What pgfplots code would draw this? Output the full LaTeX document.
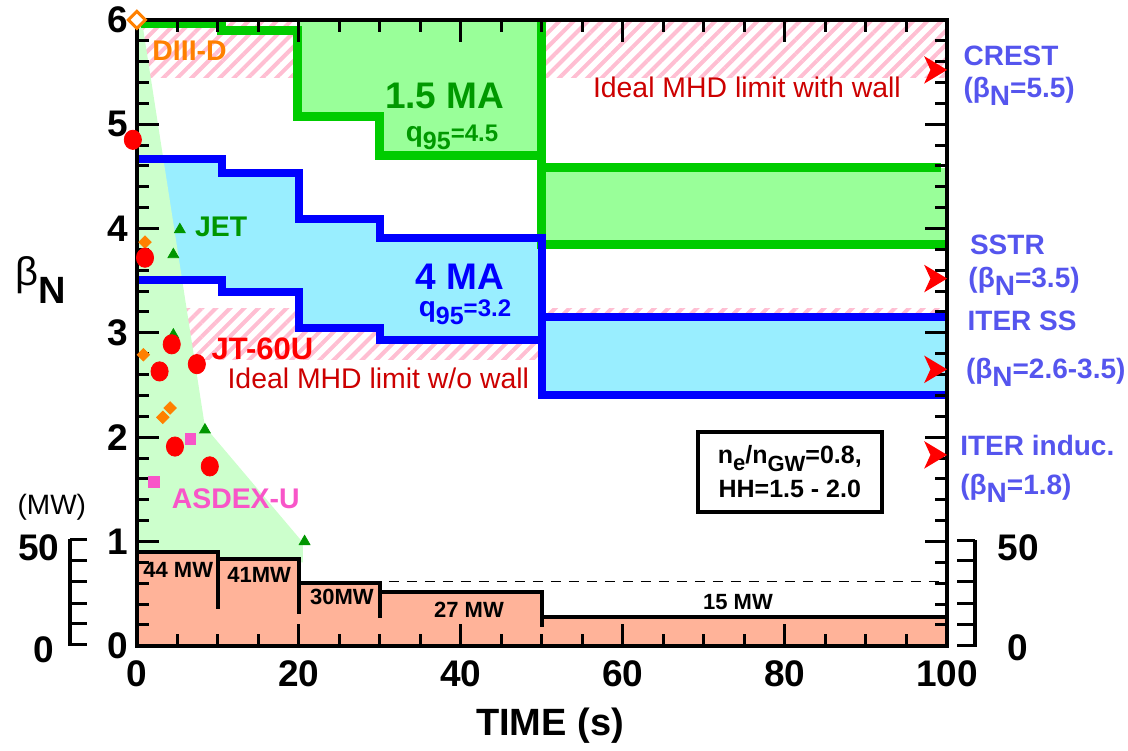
\documentclass[border=0pt]{standalone}
\usepackage{pgfplots}
\pgfplotsset{compat=1.18}
\usepackage{fontspec}
\setmainfont{Liberation Sans}
\usetikzlibrary{patterns.meta}

\definecolor{wedge}{RGB}{204,255,204}
\definecolor{gfill}{RGB}{153,255,153}
\definecolor{gline}{RGB}{0,204,0}
\definecolor{gtext}{RGB}{0,153,0}
\definecolor{cfill}{RGB}{153,238,255}
\definecolor{bline}{RGB}{0,0,255}
\definecolor{pfill}{RGB}{255,179,153}
\definecolor{hatch}{RGB}{255,190,210}
\definecolor{dred}{RGB}{204,0,0}
\definecolor{orng}{RGB}{255,128,0}
\definecolor{pnk}{RGB}{248,85,200}
\definecolor{lblue}{RGB}{85,85,238}
\definecolor{tgreen}{RGB}{0,150,0}

\newcommand{\fs}[1]{\fontsize{#1}{#1}\selectfont}

\pgfdeclareplotmark{rarrow}{%
 \pgfpathmoveto{\pgfpoint{\pgfplotmarksize}{0pt}}%
 \pgfpathlineto{\pgfpoint{-\pgfplotmarksize}{1.2\pgfplotmarksize}}%
 \pgfpathlineto{\pgfpoint{-0.45\pgfplotmarksize}{0pt}}%
 \pgfpathlineto{\pgfpoint{-\pgfplotmarksize}{-1.2\pgfplotmarksize}}%
 \pgfpathclose\pgfusepathqfill}

\begin{document}
\begin{tikzpicture}
\begin{axis}[
  width=405pt, height=313pt, scale only axis,
  xmin=0, xmax=100, ymin=0, ymax=6,
  clip=false, axis on top,
  axis line style={line width=2pt},
  xtick={0,20,...,100}, minor x tick num=3,
  ytick={0,1,...,6}, minor y tick num=4,
  tick align=inside,
  major tick length=11pt, minor tick length=6pt,
  every tick/.style={black, line width=1.5pt},
  /pgf/number format/assume math mode=true,
  tick label style={font=\bfseries\fs{18.5}},
  xticklabel style={yshift=-4pt},
  yticklabel style={xshift=-1pt},
  xlabel={TIME (s)},
  xlabel style={at={(rel axis cs:0.51,-0.128)}, anchor=center, font=\bfseries\fs{19}},
]
% bounding box
\path (axis cs:-16.9,-0.968) rectangle (axis cs:122.35,6.19);

% hatched ideal MHD bands
\addplot[draw=none, pattern={Lines[angle=45,distance=5pt,line width=2pt]}, pattern color=hatch]
  coordinates {(0,5.45)(100,5.45)(100,6)(0,6)} -- cycle;
\addplot[draw=none, pattern={Lines[angle=45,distance=5pt,line width=2pt]}, pattern color=hatch]
  coordinates {(0,2.74)(100,2.74)(100,3.23)(0,3.23)} -- cycle;

% 1.5 MA region fill
\addplot[draw=none, fill=gfill]
  coordinates {(19.8,6)(50,6)(50,4.70)(30,4.70)(30,5.07)(19.8,5.07)} -- cycle;
\addplot[draw=none, fill=gfill]
  coordinates {(50,3.85)(100,3.85)(100,4.58)(50,4.58)} -- cycle;

% 4 MA region fill
\addplot[draw=none, fill=cfill]
  coordinates {(0,4.67)(10.5,4.67)(10.5,4.53)(20,4.53)(20,4.09)(30,4.09)(30,3.91)(50,3.91)(50,3.15)(100,3.15)(100,2.40)(50,2.40)(50,2.93)(30,2.93)(30,3.05)(20,3.05)(20,3.39)(10.5,3.39)(10.5,3.51)(0,3.51)} -- cycle;

% operational region wedge
\addplot[draw=none, fill=wedge]
  coordinates {(0,6)(0.7,5.95)(8.4,2.1)(20.5,0.99)(20.5,0.8)(0,0.8)} -- cycle;

% heating power
\addplot[draw=none, fill=pfill]
  coordinates {(0,0)(0,0.90)(10,0.90)(10,0.835)(20,0.835)(20,0.605)(30,0.605)(30,0.52)(50,0.52)(50,0.28)(100,0.28)(100,0)} -- cycle;
\addplot[black, line width=2pt]
  coordinates {(0,0.90)(10,0.90)(10,0.835)(20,0.835)(20,0.605)(30,0.605)(30,0.52)(50,0.52)(50,0.28)(100,0.28)};
\addplot[black, line width=2pt] coordinates {(10,0.835)(10,0.35)};
\addplot[black, line width=2pt] coordinates {(20,0.605)(20,0.31)};
\addplot[black, line width=2pt] coordinates {(30,0.52)(30,0.27)};
\addplot[black, line width=2pt] coordinates {(50,0.28)(50,0.18)};
\addplot[black, line width=0.7pt, dash pattern=on 5pt off 4pt] coordinates {(20,0.615)(99,0.615)};

% green lines
\addplot[gline, line width=4.5pt]
  coordinates {(0.5,5.96)(10.5,5.96)(10.5,5.9)(19.8,5.9)(19.8,5.07)(30,5.07)(30,4.70)(50,4.70)};
\addplot[gline, line width=4.5pt] coordinates {(50,6)(50,3.85)(100,3.85)};
\addplot[gline, line width=4.5pt] coordinates {(50,4.58)(99.3,4.58)};

% blue lines
\addplot[bline, line width=4pt]
  coordinates {(0,4.67)(10.5,4.67)(10.5,4.53)(20,4.53)(20,4.09)(30,4.09)(30,3.91)(50,3.91)(50,2.40)(100,2.40)};
\addplot[bline, line width=4pt]
  coordinates {(0,3.51)(10.5,3.51)(10.5,3.39)(20,3.39)(20,3.05)(30,3.05)(30,2.93)(50,2.93)};
\addplot[bline, line width=4pt] coordinates {(50,3.15)(100,3.15)};

% data markers
\addplot[only marks, mark=square*, color=orng, mark size=3pt, mark options={rotate=45, fill=white, line width=1.5pt}]
  coordinates {(0,6)};
\addplot[only marks, mark=square*, color=orng, mark size=2.2pt, mark options={rotate=45}]
  coordinates {(1.0,3.87)(0.8,2.79)(4.1,2.28)(3.2,2.19)};
\addplot[only marks, mark=triangle*, color=tgreen, mark size=3.1pt]
  coordinates {(5.3,3.99)(4.5,3.75)(4.5,2.98)(8.4,2.07)(20.7,1.0)};
\addplot[only marks, mark=square*, color=pnk, mark size=2.7pt]
  coordinates {(6.6,1.98)(2.1,1.57)};
\addplot[only marks, mark=*, color=red, mark size=4.3pt, mark options={yscale=1.12}]
  coordinates {(-0.5,4.85)(1.0,3.72)(4.3,2.89)(7.4,2.70)(2.8,2.63)(4.7,1.91)(9.0,1.72)};
\addplot[only marks, mark=rarrow, color=red, mark size=5.75pt]
  coordinates {(98.6,5.52)(98.6,3.52)(98.6,2.65)(98.6,1.83)};

% texts
\node[text=gtext, font=\bfseries\fs{18.5}] at (axis cs:38.0,5.27) {1.5 MA};
\node[text=gtext, font=\bfseries, inner sep=0pt] at (axis cs:38.9,4.87) {\fs{14}q\raisebox{-4pt}{\fs{12.5}95}\fs{12}=4.5};
\node[text=bline, font=\bfseries\fs{18.5}] at (axis cs:39.9,3.54) {4 MA};
\node[text=bline, font=\bfseries, inner sep=0pt] at (axis cs:40.5,3.2) {\fs{14}q\raisebox{-4pt}{\fs{12.5}95}\fs{12}=3.2};
\node[text=red, font=\bfseries\fs{15.5}, inner sep=0pt] at (axis cs:15.5,2.85) {JT-60U};
\node[text=dred, font=\fs{14.2}, inner sep=0pt] at (axis cs:29.8,2.565) {Ideal MHD limit w/o wall};
\node[text=dred, font=\fs{14.2}] at (axis cs:75.3,5.35) {Ideal MHD limit with wall};
\node[text=orng, font=\bfseries\fs{14.2}] at (axis cs:6.5,5.7) {DIII-D};
\node[text=tgreen, font=\bfseries\fs{14.2}] at (axis cs:10.4,4.02) {JET};
\node[text=pnk, font=\bfseries\fs{14.2}] at (axis cs:12.2,1.41) {ASDEX-U};

\node[font=\bfseries\fs{11}] at (axis cs:5.1,0.73) {44 MW};
\node[font=\bfseries\fs{11}] at (axis cs:15.1,0.68) {41MW};
\node[font=\bfseries\fs{11}] at (axis cs:25.3,0.47) {30MW};
\node[font=\bfseries\fs{11}] at (axis cs:41.0,0.345) {27 MW};
\node[font=\bfseries\fs{11}] at (axis cs:74.2,0.42) {15 MW};

\node[draw, line width=2pt, fill=white, minimum width=92pt, minimum height=40pt, align=center,
      font=\bfseries\fontsize{12.5}{17}\selectfont] at (axis cs:80.6,1.67)
  {n\raisebox{-3.5pt}{\fs{11}e}/n\raisebox{-4pt}{\fs{11}GW}=0.8,\\HH=1.5 - 2.0};

% right-hand labels
\begin{scope}[every node/.style={anchor=west, inner sep=0pt, text=lblue, font=\bfseries\fs{14}}]
\node at (axis cs:102.0,5.65) {CREST};
\node at (axis cs:102.0,5.31) {(β\raisebox{-4pt}{N}=5.5)};
\node at (axis cs:102.8,3.84) {SSTR};
\node at (axis cs:102.6,3.49) {(β\raisebox{-4pt}{N}=3.5)};
\node at (axis cs:102.5,3.11) {ITER SS};
\node at (axis cs:102.3,2.62) {(β\raisebox{-4pt}{N}=2.6-3.5)};
\node at (axis cs:101.6,1.92) {ITER induc.};
\node at (axis cs:101.6,1.51) {(β\raisebox{-4pt}{N}=1.8)};
\end{scope}

% secondary power axes
\draw[line width=2pt] (axis cs:-8.27,0) -- (axis cs:-8.27,1.026);
\draw[line width=1.5pt] (axis cs:-8.27,0.01) -- (axis cs:-6.17,0.01)
  (axis cs:-8.27,0.21) -- (axis cs:-6.17,0.21)
  (axis cs:-8.27,0.41) -- (axis cs:-6.17,0.41)
  (axis cs:-8.27,0.615) -- (axis cs:-6.17,0.615)
  (axis cs:-8.27,0.82) -- (axis cs:-6.17,0.82)
  (axis cs:-8.27,1.02) -- (axis cs:-6.17,1.02);
\draw[line width=2pt] (axis cs:103.45,-0.01) -- (axis cs:103.45,1.01);
\draw[line width=1.5pt] (axis cs:103.45,0) -- (axis cs:101.2,0)
  (axis cs:103.45,0.205) -- (axis cs:101.2,0.205)
  (axis cs:103.45,0.41) -- (axis cs:101.2,0.41)
  (axis cs:103.45,0.615) -- (axis cs:101.2,0.615)
  (axis cs:103.45,0.82) -- (axis cs:101.2,0.82)
  (axis cs:103.45,1.005) -- (axis cs:101.2,1.005);
\node[font=\bfseries\fs{18.5}] at (axis cs:-12.1,0.94) {50};
\node[font=\bfseries\fs{18.5}] at (axis cs:-11.5,-0.04) {0};
\node[font=\bfseries\fs{18.5}] at (axis cs:108.8,0.94) {50};
\node[font=\bfseries\fs{18.5}] at (axis cs:108.8,-0.02) {0};
\node[font=\fs{14}] at (axis cs:-10.5,1.33) {(MW)};

% beta_N label
\node[inner sep=0pt] at (axis cs:-11.85,3.51) {\fs{20}β\raisebox{-9pt}{\bfseries\fs{19}N}};
\end{axis}
\end{tikzpicture}
\end{document}
